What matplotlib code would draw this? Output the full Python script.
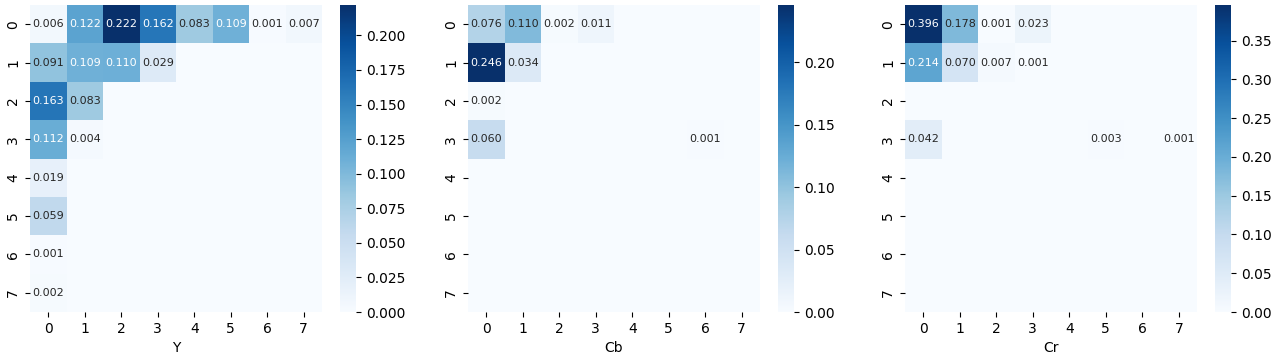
import numpy as np
import matplotlib
matplotlib.use("Agg")
import matplotlib.pyplot as plt
import seaborn as sns

labels = ["Y", "Cb", "Cr"]
tick_labels = [str(i) for i in range(8)]

y_vals = [
    [0.006, 0.122, 0.222, 0.162, 0.083, 0.109, 0.001, 0.007],
    [0.091, 0.109, 0.110, 0.029, 0, 0, 0, 0],
    [0.163, 0.083, 0, 0, 0, 0, 0, 0],
    [0.112, 0.004, 0, 0, 0, 0, 0, 0],
    [0.019, 0, 0, 0, 0, 0, 0, 0],
    [0.059, 0, 0, 0, 0, 0, 0, 0],
    [0.001, 0, 0, 0, 0, 0, 0, 0],
    [0.002, 0, 0, 0, 0, 0, 0, 0],
]
cb_vals = [
    [0.076, 0.110, 0.002, 0.011, 0, 0, 0, 0],
    [0.246, 0.034, 0, 0, 0, 0, 0, 0],
    [0.002, 0, 0, 0, 0, 0, 0, 0],
    [0.060, 0, 0, 0, 0, 0, 0.001, 0],
    [0, 0, 0, 0, 0, 0, 0, 0],
    [0, 0, 0, 0, 0, 0, 0, 0],
    [0, 0, 0, 0, 0, 0, 0, 0],
    [0, 0, 0, 0, 0, 0, 0, 0],
]
cr_vals = [
    [0.396, 0.178, 0.001, 0.023, 0, 0, 0, 0],
    [0.214, 0.070, 0.007, 0.001, 0, 0, 0, 0],
    [0, 0, 0, 0, 0, 0, 0, 0],
    [0.042, 0, 0, 0, 0, 0.003, 0, 0.001],
    [0, 0, 0, 0, 0, 0, 0, 0],
    [0, 0, 0, 0, 0, 0, 0, 0],
    [0, 0, 0, 0, 0, 0, 0, 0],
    [0, 0, 0, 0, 0, 0, 0, 0],
]

fig = plt.figure(figsize=(12.85, 3.56), dpi=100)
W, H = 1285, 356
hm_x = [30, 468, 905]
cb_x = [340, 778, 1215]
top, bottom = 5, 312

for i, (name, vals) in enumerate(zip(labels, [y_vals, cb_vals, cr_vals])):
    data = np.array(vals, dtype=float)
    annot = np.where(data > 0, np.vectorize(lambda v: f"{v:.3f}")(data), "")
    ax = fig.add_axes([hm_x[i] / W, 1 - bottom / H, 292 / W, (bottom - top) / H])
    cax = fig.add_axes([cb_x[i] / W, 1 - bottom / H, 16 / W, (bottom - top) / H])
    sns.heatmap(data, ax=ax, cbar_ax=cax, cmap="Blues", annot=annot, fmt="",
                annot_kws={"size": 8}, xticklabels=tick_labels, yticklabels=tick_labels)
    ax.set_xlabel(name)

fig.savefig("out.png", dpi=100)
